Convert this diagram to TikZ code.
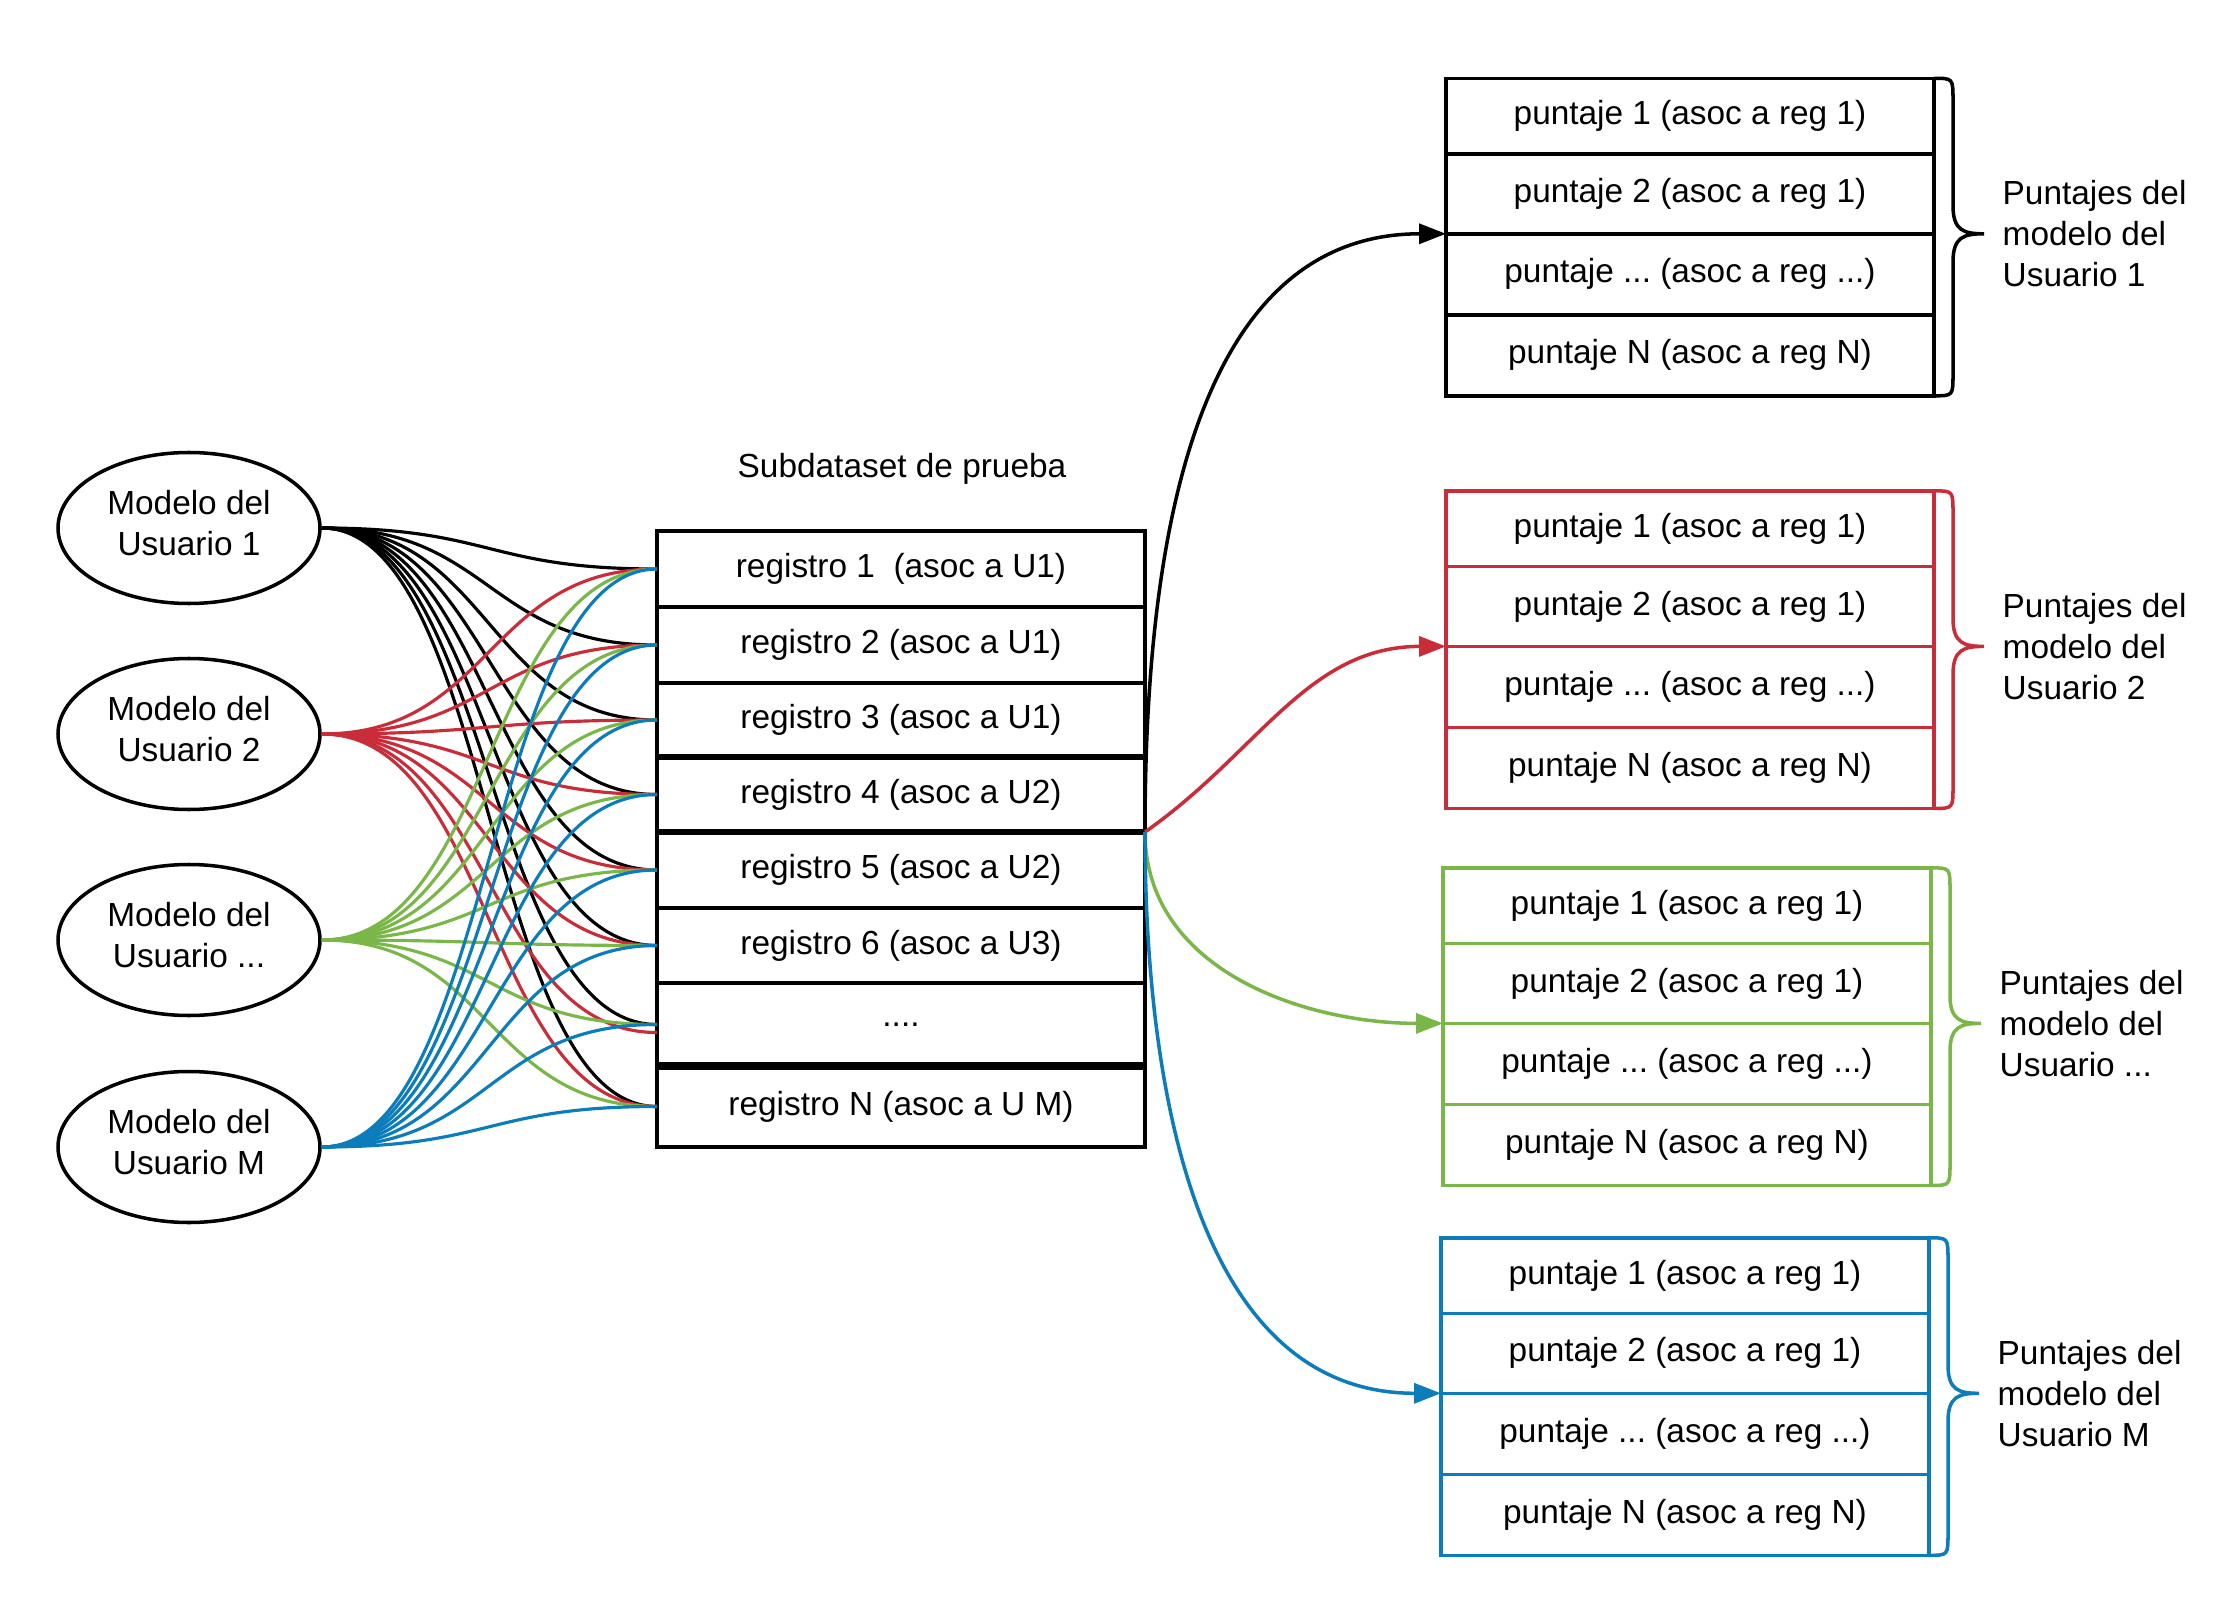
\documentclass[tikz,border=0pt]{standalone}
\usepackage{fontspec}
\setmainfont{Liberation Sans}
\usetikzlibrary{shapes.geometric,arrows.meta}
\definecolor{cred}{HTML}{C92D39}
\definecolor{cgreen}{HTML}{7AB648}
\definecolor{cblue}{HTML}{0C7CBA}
\frenchspacing
\tikzset{
  ell/.style={ellipse, draw, line width=1pt, minimum width=2.62cm, minimum height=1.51cm, inner sep=0pt},
  etxt/.style={align=center, inner sep=0pt},
  rec/.style={rectangle, draw, line width=1pt, minimum width=4.88cm, inner sep=0pt, outer sep=0pt, anchor=center},
  lnk/.style={line width=0.9pt},
  arr/.style={line width=1pt, -{Triangle[length=0.27cm,width=0.2cm]}},
  lbl/.style={align=left, anchor=west, inner sep=0pt},
  brc/.style={line width=1pt}
}
\newcommand\scoretab[5]{%
  \node[rec,draw=#2,minimum height=0.755cm] (#1a) at (#3,{-(#4+0.3775)}) {puntaje 1 (asoc a reg 1)};
  \node[rec,draw=#2,minimum height=0.80cm] (#1b) at (#3,{-(#4+1.155)}) {puntaje 2 (asoc a reg 1)};
  \node[rec,draw=#2,minimum height=0.81cm] (#1c) at (#3,{-(#4+1.96)}) {puntaje ... (asoc a reg ...)};
  \node[rec,draw=#2,minimum height=0.81cm] (#1d) at (#3,{-(#4+2.77)}) {puntaje N (asoc a reg N)};
  \draw[brc,#2] (#1a.north east) .. controls ([xshift=.19cm]#1a.north east) .. ([xshift=.19cm,yshift=-.22cm]#1a.north east)
    -- ([xshift=.19cm,yshift=.28cm]#1b.south east)
    .. controls ([xshift=.19cm,yshift=.03cm]#1b.south east) and ([xshift=.3cm]#1b.south east) .. ([xshift=.5cm]#1b.south east)
    .. controls ([xshift=.3cm]#1b.south east) and ([xshift=.19cm,yshift=-.03cm]#1b.south east) .. ([xshift=.19cm,yshift=-.28cm]#1b.south east)
    -- ([xshift=.19cm,yshift=.22cm]#1d.south east)
    .. controls ([xshift=.19cm]#1d.south east) .. (#1d.south east);
  \node[lbl] (#1l) at ([xshift=.68cm]#1b.south east) {Puntajes del\\modelo del\\Usuario #5};
}
\begin{document}
\begin{tikzpicture}[font=\fontsize{9.5pt}{11.6pt}\selectfont]
\useasboundingbox (0,0) rectangle (22.31,-16.20);

% ellipses
\node[ell] (e1) at (1.89,-5.28) {};
\node[ell] (e2) at (1.89,-7.34) {};
\node[ell] (e3) at (1.89,-9.40) {};
\node[ell] (e4) at (1.89,-11.47) {};
\node[etxt] (e1t) at ([yshift=0.05cm]e1.center) {Modelo del\\Usuario 1};
\node[etxt] (e2t) at ([yshift=0.05cm]e2.center) {Modelo del\\Usuario 2};
\node[etxt] (e3t) at ([yshift=0.05cm]e3.center) {Modelo del\\Usuario ...};
\node[etxt] (e4t) at ([yshift=0.05cm]e4.center) {Modelo del\\Usuario M};

% central table
\node (title) at (9.02,-4.69) {Subdataset de prueba};
\node[rec,minimum height=0.76cm] (r1) at (9.01,-5.69) {registro 1\ \ (asoc a U1)};
\node[rec,minimum height=0.76cm] (r2) at (9.01,-6.45) {registro 2 (asoc a U1)};
\node[rec,minimum height=0.74cm] (r3) at (9.01,-7.20) {registro 3 (asoc a U1)};
\node[rec,minimum height=0.75cm] (r4) at (9.01,-7.945) {registro 4 (asoc a U2)};
\node[rec,minimum height=0.76cm] (r5) at (9.01,-8.70) {registro 5 (asoc a U2)};
\node[rec,minimum height=0.75cm] (r6) at (9.01,-9.455) {registro 6 (asoc a U3)};
\node[rec,minimum height=0.83cm] (r7) at (9.01,-10.245) {....};
\node[rec,minimum height=0.81cm] (r8) at (9.01,-11.065) {registro N (asoc a U M)};
\draw[line width=1.6pt] (r3.south west) -- (r3.south east);
\draw[line width=1.6pt] (r4.south west) -- (r4.south east);
\draw[line width=2.2pt] (r7.south west) -- (r7.south east);

% left connectors
\foreach \r in {1,...,8} {
  \draw[lnk,black] (e1.east) .. controls +(1.7,0) and +(-1.7,0) .. (r\r.west);
}
\foreach \r in {1,...,6,8} {
  \draw[lnk,cred] (e2.east) .. controls +(1.7,0) and +(-1.7,0) .. (r\r.west);
}
\draw[lnk,cred] (e2.east) .. controls +(1.7,0) and +(-1.7,0) .. ([yshift=-0.08cm]r7.west);
\foreach \r in {1,...,8} {
  \draw[lnk,cgreen] (e3.east) .. controls +(1.7,0) and +(-1.7,0) .. (r\r.west);
}
\foreach \r in {1,...,8} {
  \draw[lnk,cblue] (e4.east) .. controls +(1.7,0) and +(-1.7,0) .. (r\r.west);
}

% score tables
\scoretab{ta}{black}{16.90}{0.783}{1}
\scoretab{tb}{cred}{16.90}{4.909}{2}
\scoretab{tc}{cgreen}{16.87}{8.679}{...}
\scoretab{td}{cblue}{16.85}{12.378}{M}

% arrows
\coordinate (src) at (r4.south east);
\draw[arr,black] (src) to[out=90,in=180] (tab.south west);
\draw[arr,cred] (src) to[out=35,in=180] (tbb.south west);
\draw[arr,cgreen] (src) to[out=-90,in=180] (tcb.south west);
\draw[arr,cblue] (src) to[out=-90,in=180] (tdb.south west);
\end{tikzpicture}
\end{document}
